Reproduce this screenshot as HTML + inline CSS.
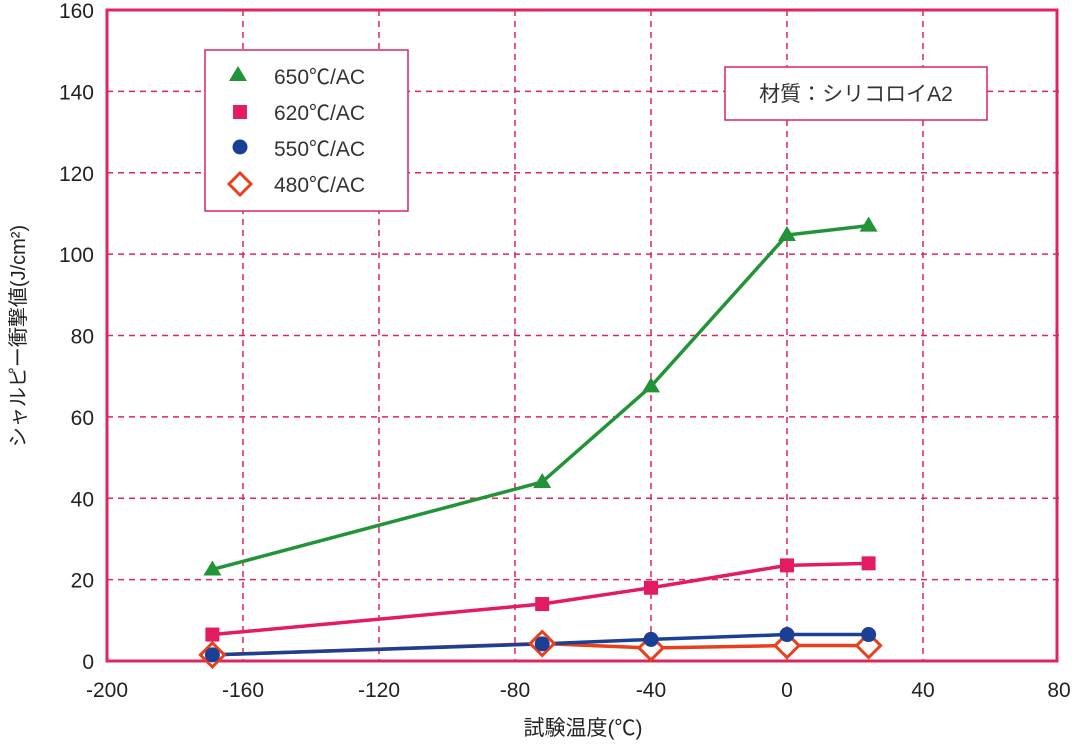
<!DOCTYPE html>
<html><head><meta charset="utf-8"><style>
body{margin:0;background:#fff}
text{font-family:"Liberation Sans","Noto Sans CJK JP",sans-serif}
</style></head><body>
<svg id="chart" width="1075" height="742" xmlns="http://www.w3.org/2000/svg">
<g id="grid"></g>
<g id="axes"></g>
<g id="series"></g>
<g>
<rect x="205" y="50" width="203" height="161" fill="#fff" stroke="#e0245e" stroke-width="1.5"/>
<polygon points="238,66 247,81 229,81" fill="#229438"/>
<text x="274" y="84" font-size="21" fill="#333">650℃/AC</text>
<rect x="233" y="105" width="14" height="14" fill="#e31b65"/>
<text x="274" y="120" font-size="21" fill="#333">620℃/AC</text>
<circle cx="240" cy="147" r="7.5" fill="#1c3f96"/>
<text x="274" y="156" font-size="21" fill="#333">550℃/AC</text>
<polygon points="240,173 251,184 240,195 229,184" fill="#fff" stroke="#e8401c" stroke-width="3"/>
<text x="274" y="192" font-size="21" fill="#333">480℃/AC</text>
</g>
<g>
<rect x="725" y="67" width="262" height="53" fill="#fff" stroke="#e0245e" stroke-width="1.5"/>
<text x="856" y="101" font-size="21" fill="#333" text-anchor="middle">材質：シリコロイA2</text>
</g>
<text x="583" y="735" font-size="21" fill="#222" text-anchor="middle">試験温度(℃)</text>
<text transform="translate(25,336) rotate(-90)" font-size="20" fill="#222" text-anchor="middle">シャルピー衝撃値(J/cm²)</text>
</svg>
<script>
const xTicks=[-200,-160,-120,-80,-40,0,40,80];
const yTicks=[0,20,40,60,80,100,120,140,160];
const temps=[-169,-72,-40,0,24];
const s650=[22.5,44,67.5,104.7,107];
const s620=[6.5,14,18,23.5,24];
const s550=[1.5,4.2,5.3,6.5,6.5];
const s480=[1.5,4.3,3.2,3.8,3.8];
const X0=107,X1=1059,Y0=661,Y1=10;
function sx(v){return X0+(v+200)/280*(X1-X0);}
function sy(v){return Y0-v/160*(Y0-Y1);}
const NS="http://www.w3.org/2000/svg";
function mk(tag,attrs,parent){const e=document.createElementNS(NS,tag);for(const k in attrs)e.setAttribute(k,attrs[k]);parent.appendChild(e);return e;}
const grid=document.getElementById('grid'),axes=document.getElementById('axes'),ser=document.getElementById('series');
xTicks.forEach(t=>{
 if(t>-200&&t<80){const l=mk('line',{x1:sx(t),x2:sx(t),y1:Y1,y2:Y0,stroke:'#e0245e','stroke-width':1.5,'stroke-dasharray':'6,5'},grid);
 
 }
 const tx=mk('text',{x:sx(t),y:697,'font-size':21,fill:'#222','text-anchor':'middle'},axes);tx.textContent=t;
 
 
});
yTicks.forEach(t=>{
 if(t>0&&t<160){const l=mk('line',{x1:X0,x2:X1,y1:sy(t),y2:sy(t),stroke:'#e0245e','stroke-width':1.5,'stroke-dasharray':'6,5'},grid);
 
 }
 const tx=mk('text',{x:94,y:sy(t)+8,'font-size':21,fill:'#222','text-anchor':'end'},axes);tx.textContent=t;
 
 
});
const fr=mk('rect',{x:X0,y:Y1,width:X1-X0-2,height:Y0-Y1,fill:'none',stroke:'#e0245e','stroke-width':3},axes);


function line(vals,color,name){
 const p=mk('polyline',{points:temps.map((t,i)=>sx(t)+','+sy(vals[i])).join(' '),fill:'none',stroke:color,'stroke-width':3.5},ser);
 
 
}
line(s480,'#e8401c','series-480');
line(s550,'#1c3f96','series-550');
line(s620,'#e31b65','series-620');
line(s650,'#229438','series-650');
temps.forEach((t,i)=>{
 const x=sx(t);
 let y=sy(s480[i]);
 const d=mk('polygon',{points:`${x},${y-12} ${x+12},${y} ${x},${y+12} ${x-12},${y}`,fill:'#fff',stroke:'#e8401c','stroke-width':3},ser);
 
 
});
temps.forEach((t,i)=>{
 const c=mk('circle',{cx:sx(t),cy:sy(s550[i]),r:7.5,fill:'#1c3f96'},ser);
 
 
 const r=mk('rect',{x:sx(t)-7,y:sy(s620[i])-7,width:14,height:14,fill:'#e31b65'},ser);
 
 
 const x=sx(t),y=sy(s650[i]);
 const g=mk('polygon',{points:`${x},${y-9} ${x+9},${y+6} ${x-9},${y+6}`,fill:'#229438'},ser);
 
 
});
</script>
</body></html>
